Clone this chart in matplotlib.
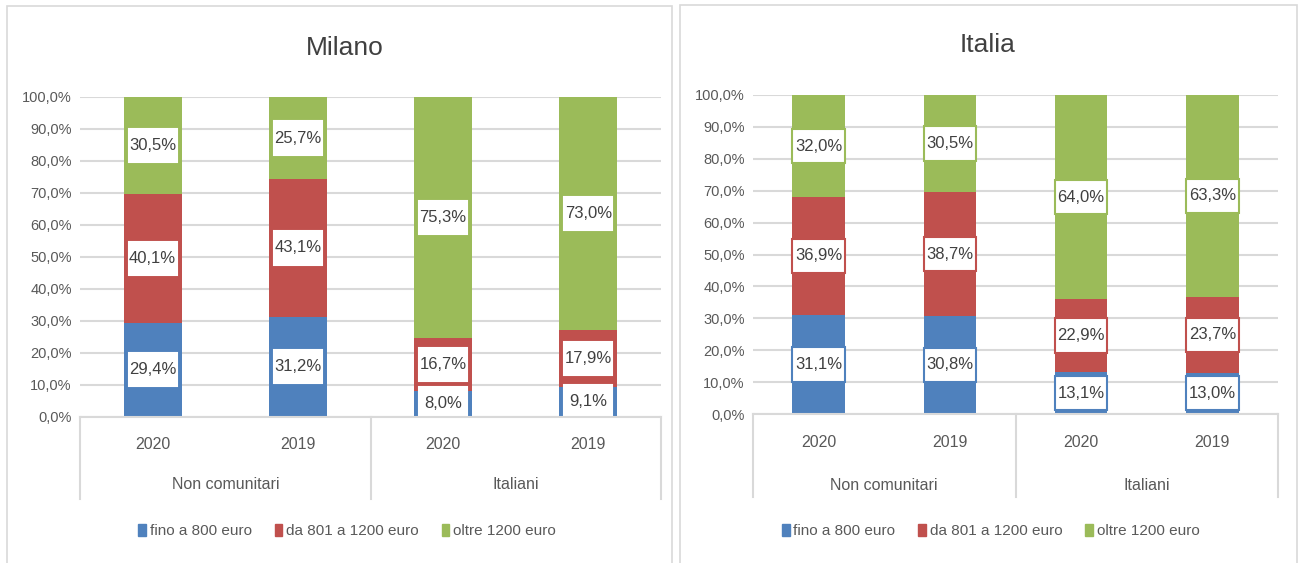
import matplotlib.pyplot as plt
from matplotlib.patches import Rectangle, Patch
import numpy as np

plt.rcParams['font.family'] = ['Liberation Sans', 'DejaVu Sans']

# data
years = ['2020', '2019', '2020', '2019']
groups = ['Non comunitari', 'Italiani']
series_names = ['fino a 800 euro', 'da 801 a 1200 euro', 'oltre 1200 euro']

milano_800 = [29.4, 31.2, 8.0, 9.1]
milano_1200 = [40.1, 43.1, 16.7, 17.9]
milano_over = [30.5, 25.7, 75.3, 73.0]

italia_800 = [31.1, 30.8, 13.1, 13.0]
italia_1200 = [36.9, 38.7, 22.9, 23.7]
italia_over = [32.0, 30.5, 64.0, 63.3]

colors = ['#4F81BD', '#C0504D', '#9BBB59']
grid_c = '#D9D9D9'
txt_c = '#595959'

fig = plt.figure(figsize=(12.98, 5.63), dpi=100)

# panel frames
fig.patches.append(Rectangle((7/1298, -0.01), 665/1298, 1 - 6/563 + 0.01,
                             transform=fig.transFigure, fill=False, edgecolor=grid_c, lw=1.2))
fig.patches.append(Rectangle((680/1298, -0.01), 617/1298, 1 - 5/563 + 0.01,
                             transform=fig.transFigure, fill=False, edgecolor=grid_c, lw=1.2))


def fmt(v):
    return ('%.1f' % v).replace('.', ',') + '%'


def panel(rect, title, tpos, series, yy, legy, legx, boxw, boxh, box_edges):
    ax = fig.add_axes(rect)
    x = np.arange(4) + 0.5
    bottom = np.zeros(4)
    for vals, c in zip(series, colors):
        vals = np.array(vals)
        ax.bar(x, vals, 0.4, bottom=bottom, color=c, zorder=2)
        for xi, b, v in zip(x, bottom, vals):
            yc = b + v / 2
            ax.add_patch(Rectangle((xi - boxw / 2, yc - boxh / 2), boxw, boxh,
                                   fc='white', ec=c if box_edges else 'white',
                                   lw=1.5, zorder=3))
            ax.text(xi, yc, fmt(v), ha='center', va='center', fontsize=12,
                    color='#404040', zorder=4)
        bottom += vals
    ax.set_xlim(0, 4)
    ax.set_ylim(0, 100)
    ax.set_yticks(np.arange(0, 101, 10))
    ax.set_yticklabels([fmt(v) for v in range(0, 101, 10)], fontsize=10.5, color=txt_c)
    ax.yaxis.grid(True, color=grid_c, lw=1.5, zorder=0)
    ax.set_xticks([])
    ax.tick_params(axis='y', length=0, pad=6)
    for s in ['top', 'right', 'left']:
        ax.spines[s].set_visible(False)
    ax.spines['bottom'].set_color(grid_c)
    ax.spines['bottom'].set_linewidth(1.5)
    ax.spines['bottom'].set_zorder(5)
    tr = ax.get_xaxis_transform()
    for xi, yr in zip(x, years):
        ax.text(xi, yy[0], yr, transform=tr, ha='center', va='center', fontsize=11.5, color=txt_c)
    for xi, g in zip([1, 3], groups):
        ax.text(xi, yy[1], g, transform=tr, ha='center', va='center', fontsize=11.5, color=txt_c)
    for xs in [0, 2, 4]:
        ax.plot([xs, xs], [0, yy[2]], transform=tr, color=grid_c, lw=1.5, clip_on=False)
    handles = [Patch(color=c) for c in colors]
    ax.legend(handles, series_names, loc='center', bbox_to_anchor=(legx, legy), ncol=3,
              frameon=False, fontsize=11, handlelength=0.5, handleheight=0.9,
              handletextpad=0.25, columnspacing=1.5, labelcolor=txt_c)
    fig.text(tpos[0], tpos[1], title, ha='center', va='center', fontsize=19, color='#404040')
    return ax


panel([80/1298, 1 - 416.5/563, 581/1298, 319.5/563], 'Milano', (345/1298, 1 - 48/563),
      [milano_800, milano_1200, milano_over], (-0.089, -0.214, -0.258), -0.358, 0.46,
      0.33, 10.4, False)
panel([753/1298, 1 - 414/563, 525/1298, 319/563], 'Italia', (988/1298, 1 - 45/563),
      [italia_800, italia_1200, italia_over], (-0.088, -0.223, -0.26), -0.367, 0.453,
      0.4, 10.8, True)

plt.savefig('out.png', dpi=100)
